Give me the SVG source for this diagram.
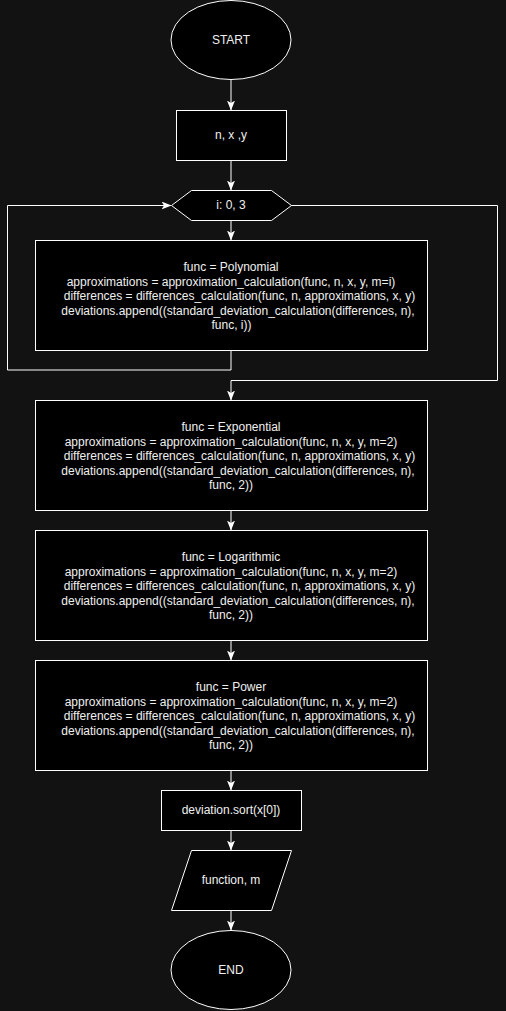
<svg xmlns="http://www.w3.org/2000/svg" width="506" height="1011" viewBox="0 0 506 1011">
<defs>
<marker id="arr" viewBox="0 0 10 8" refX="9.5" refY="4" markerWidth="10" markerHeight="8" markerUnits="userSpaceOnUse" orient="auto">
<path d="M0,0 L10,4 L0,8 L2.5,4 z" fill="#ffffff"/>
</marker>
</defs>
<style>
.shape{fill:#000000;stroke:#ffffff;stroke-width:1}
.edge{fill:none;stroke:#ffffff;stroke-width:1}
.t{font-family:"Liberation Sans",Arial,sans-serif;font-size:12px;fill:#f0f0f0;text-anchor:middle}
</style>
<rect x="0" y="0" width="506" height="1011" fill="#121212"/>
<g id="connectors">
<path class="edge" d="M231,80 L231,110" marker-end="url(#arr)"/>
<path class="edge" d="M231,160 L231,190" marker-end="url(#arr)"/>
<path class="edge" d="M231,220 L231,240" marker-end="url(#arr)"/>
<path class="edge" d="M231,350 L231,370 L7.5,370 L7.5,205.5 L171,205.5" marker-end="url(#arr)"/>
<path class="edge" d="M291,205.5 L497.5,205.5 L497.5,380.5 L231,380.5 L231,400" marker-end="url(#arr)"/>
<path class="edge" d="M231,510 L231,530" marker-end="url(#arr)"/>
<path class="edge" d="M231,640 L231,660" marker-end="url(#arr)"/>
<path class="edge" d="M231,770 L231,790" marker-end="url(#arr)"/>
<path class="edge" d="M231,830 L231,850" marker-end="url(#arr)"/>
<path class="edge" d="M231,910 L231,930" marker-end="url(#arr)"/>
</g>
<g id="start">
<ellipse class="shape" cx="231" cy="40" rx="60" ry="39.5"/>
<text class="t" x="231" y="44">START</text>
</g>
<g id="input">
<rect class="shape" x="176.5" y="110.5" width="110" height="50"/>
<text class="t" x="231" y="139">n, x ,y</text>
</g>
<g id="loop">
<polygon class="shape" points="171.5,205.5 191.5,190.5 271.5,190.5 291.5,205.5 271.5,220.5 191.5,220.5"/>
<text class="t" x="231" y="209">i: 0, 3</text>
</g>
<g id="polynomial">
<rect class="shape" x="35.5" y="240.5" width="392" height="110"/>
<text class="t" x="231" y="271">func = Polynomial</text>
<text class="t" x="231" y="285.5">approximations = approximation_calculation(func, n, x, y, m=i)</text>
<text class="t" x="239.5" y="300">differences = differences_calculation(func, n, approximations, x, y)</text>
<text class="t" x="238" y="314.5">deviations.append((standard_deviation_calculation(differences, n),</text>
<text class="t" x="231.5" y="329">func, i))</text>
</g>
<g id="exponential">
<rect class="shape" x="35.5" y="400.5" width="392" height="110"/>
<text class="t" x="231" y="431">func = Exponential</text>
<text class="t" x="231" y="445.5">approximations = approximation_calculation(func, n, x, y, m=2)</text>
<text class="t" x="239.5" y="460">differences = differences_calculation(func, n, approximations, x, y)</text>
<text class="t" x="238" y="474.5">deviations.append((standard_deviation_calculation(differences, n),</text>
<text class="t" x="231" y="489">func, 2))</text>
</g>
<g id="logarithmic">
<rect class="shape" x="35.5" y="530.5" width="392" height="110"/>
<text class="t" x="231" y="561">func = Logarithmic</text>
<text class="t" x="231" y="575.5">approximations = approximation_calculation(func, n, x, y, m=2)</text>
<text class="t" x="239.5" y="590">differences = differences_calculation(func, n, approximations, x, y)</text>
<text class="t" x="238" y="604.5">deviations.append((standard_deviation_calculation(differences, n),</text>
<text class="t" x="231" y="619">func, 2))</text>
</g>
<g id="power">
<rect class="shape" x="35.5" y="660.5" width="392" height="110"/>
<text class="t" x="231" y="691">func = Power</text>
<text class="t" x="231" y="705.5">approximations = approximation_calculation(func, n, x, y, m=2)</text>
<text class="t" x="239.5" y="720">differences = differences_calculation(func, n, approximations, x, y)</text>
<text class="t" x="238" y="734.5">deviations.append((standard_deviation_calculation(differences, n),</text>
<text class="t" x="231" y="749">func, 2))</text>
</g>
<g id="sort">
<rect class="shape" x="161.5" y="790.5" width="140" height="40"/>
<text class="t" x="231" y="814">deviation.sort(x[0])</text>
</g>
<g id="output">
<polygon class="shape" points="191.5,850.5 291.5,850.5 271.5,910.5 171.5,910.5"/>
<text class="t" x="231" y="884">function, m</text>
</g>
<g id="end">
<ellipse class="shape" cx="231" cy="970" rx="60" ry="39.5"/>
<text class="t" x="231" y="974">END</text>
</g>
</svg>
